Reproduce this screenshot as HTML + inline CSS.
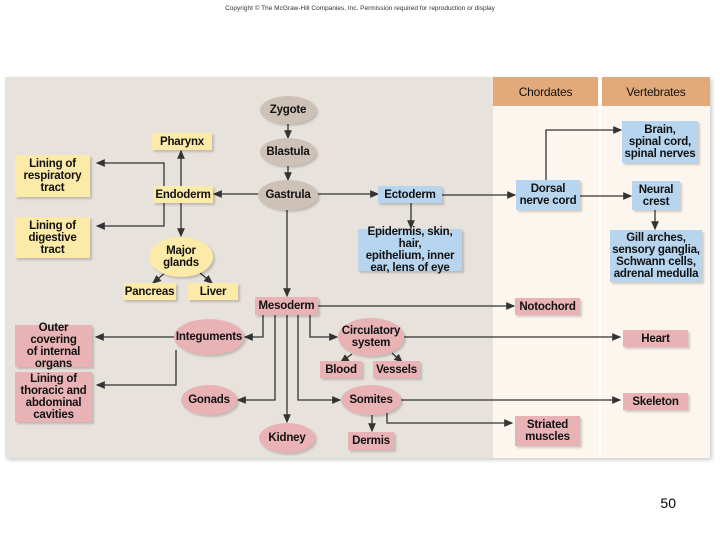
<!DOCTYPE html>
<html><head><meta charset="utf-8"><style>
body{margin:0;width:720px;height:540px;background:#fff;position:relative;overflow:hidden;font-family:"Liberation Sans",sans-serif}
.b{position:absolute;display:flex;align-items:center;justify-content:center;text-align:center;font-weight:bold;font-size:11.5px;line-height:12px;color:#111;box-shadow:2px 2px 2px rgba(0,0,0,.18);letter-spacing:-0.2px}
.y{background:#fbeaa8}.p{background:#e9b3b6}.u{background:#b7d5ee}.g{background:#cec2b7}
.e{border-radius:50%}
</style></head><body>
<div style="position:absolute;left:0;top:5px;width:720px;text-align:center;font-size:6.5px;color:#333">Copyright © The McGraw-Hill Companies, Inc. Permission required for reproduction or display</div>
<div style="position:absolute;left:5px;top:77px;width:705px;height:381px;background:#e8e2dc;box-shadow:2px 2px 4px rgba(0,0,0,.2)"></div>
<div style="position:absolute;left:493px;top:77px;width:217px;height:381px;background:#fcf6ee"></div>
<div style="position:absolute;left:599px;top:77px;width:2px;height:381px;background:#fff"></div>
<div class="b" style="left:493px;top:77px;width:105px;height:29px;background:#e2aa7b;box-shadow:none;font-weight:normal;font-size:12px">Chordates</div>
<div class="b" style="left:602px;top:77px;width:108px;height:29px;background:#e2aa7b;box-shadow:none;font-weight:normal;font-size:12px">Vertebrates</div>
<div style="position:absolute;left:0;top:495px;width:720px;text-align:right;padding-right:44px;box-sizing:border-box;font-size:14px">50</div>
<svg width="720" height="540" style="position:absolute;left:0;top:0">
<defs><marker id="a" markerWidth="7" markerHeight="6" refX="6" refY="3" orient="auto"><path d="M0,0L7,3L0,6z" fill="#333"/></marker></defs>
<g stroke="#333" stroke-width="1.3" fill="none" marker-end="url(#a)">
<path d="M288,124V138"/><path d="M288,166V180"/>
<path d="M259,194H214"/><path d="M317,194H378"/><path d="M442,195H515"/>
<path d="M580,196H631"/><path d="M546,180V130H621"/><path d="M655,210V229"/>
<path d="M411,203V228"/><path d="M287,210V296"/>
<path d="M181,186V151"/><path d="M181,203V236"/>
<path d="M164,195V163H97"/><path d="M164,195V226H97"/>
<path d="M166,272L153,283"/><path d="M199,272L212,283"/>
<path d="M318,306H514"/>
<path d="M263,315V337H245"/><path d="M275,315V400H238"/><path d="M287,315V422"/>
<path d="M298,315V400H340"/><path d="M310,315V337H337"/>
<path d="M174,337H96"/><path d="M176,350V385H97"/>
<path d="M404,337H620"/><path d="M352,354L341,362"/><path d="M392,353L402,362"/>
<path d="M401,400H620"/><path d="M372,415V431"/><path d="M387,413V423H512"/>
</g></svg>
<div class="b g e" style="left:260px;top:96px;width:56px;height:28px">Zygote</div>
<div class="b g e" style="left:260px;top:138px;width:56px;height:28px">Blastula</div>
<div class="b g e" style="left:258px;top:180px;width:60px;height:30px">Gastrula</div>
<div class="b y" style="left:152px;top:133px;width:60px;height:17px">Pharynx</div>
<div class="b y" style="left:153px;top:186px;width:60px;height:17px">Endoderm</div>
<div class="b y" style="left:15px;top:155px;width:75px;height:42px">Lining of<br>respiratory<br>tract</div>
<div class="b y" style="left:15px;top:217px;width:75px;height:41px">Lining of<br>digestive<br>tract</div>
<div class="b y e" style="left:149px;top:237px;width:64px;height:40px">Major<br>glands</div>
<div class="b y" style="left:123px;top:283px;width:53px;height:17px">Pancreas</div>
<div class="b y" style="left:188px;top:283px;width:50px;height:17px">Liver</div>
<div class="b p" style="left:255px;top:297px;width:63px;height:18px">Mesoderm</div>
<div class="b u" style="left:378px;top:186px;width:64px;height:17px">Ectoderm</div>
<div class="b u" style="left:358px;top:229px;width:104px;height:42px">Epidermis, skin, hair,<br>epithelium, inner<br>ear, lens of eye</div>
<div class="b u" style="left:516px;top:180px;width:64px;height:30px">Dorsal<br>nerve cord</div>
<div class="b u" style="left:622px;top:121px;width:76px;height:42px">Brain,<br>spinal cord,<br>spinal nerves</div>
<div class="b u" style="left:632px;top:181px;width:48px;height:29px">Neural<br>crest</div>
<div class="b u" style="left:610px;top:230px;width:92px;height:52px">Gill arches,<br>sensory ganglia,<br>Schwann cells,<br>adrenal medulla</div>
<div class="b p" style="left:515px;top:298px;width:65px;height:17px">Notochord</div>
<div class="b p" style="left:623px;top:330px;width:65px;height:17px">Heart</div>
<div class="b p" style="left:623px;top:393px;width:65px;height:17px">Skeleton</div>
<div class="b p" style="left:515px;top:416px;width:65px;height:30px">Striated<br>muscles</div>
<div class="b p" style="left:15px;top:325px;width:77px;height:42px">Outer covering<br>of internal<br>organs</div>
<div class="b p" style="left:15px;top:372px;width:77px;height:50px">Lining of<br>thoracic and<br>abdominal<br>cavities</div>
<div class="b p e" style="left:174px;top:319px;width:70px;height:36px">Integuments</div>
<div class="b p e" style="left:181px;top:385px;width:56px;height:30px">Gonads</div>
<div class="b p e" style="left:259px;top:423px;width:56px;height:30px">Kidney</div>
<div class="b p e" style="left:338px;top:318px;width:66px;height:38px">Circulatory<br>system</div>
<div class="b p" style="left:320px;top:361px;width:42px;height:17px">Blood</div>
<div class="b p" style="left:373px;top:361px;width:47px;height:17px">Vessels</div>
<div class="b p e" style="left:341px;top:385px;width:60px;height:30px">Somites</div>
<div class="b p" style="left:348px;top:432px;width:46px;height:18px">Dermis</div>
</body></html>
